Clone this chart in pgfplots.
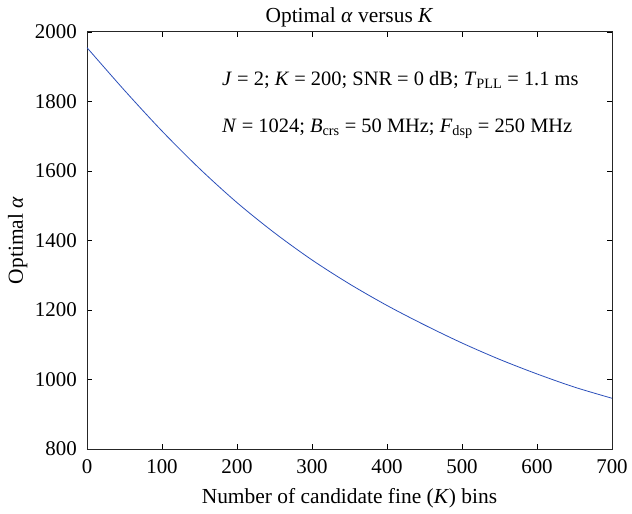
\documentclass[border=0pt]{standalone}
\usepackage{pgfplots}
\pgfplotsset{compat=1.18}
\usetikzlibrary{calc}
\usepackage{fontspec}
\setmainfont{Liberation Serif}
\definecolor{curve}{RGB}{42,78,186}
\begin{document}
\fontsize{20.5}{24}\selectfont
\begin{tikzpicture}
\begin{axis}[
  scale only axis,
  width=525bp, height=417bp,
  xmin=0, xmax=700, ymin=800, ymax=2000,
  xtick={0,100,...,700}, ytick={800,1000,...,2000},
  tick align=inside,
  major tick length=5bp,
  tick style={black, line width=0.7pt},
  axis line style={black!85, line width=1pt},
  /pgf/number format/assume math mode=true,
  /pgf/number format/set thousands separator={},
  ticklabel style={font=\fontsize{21}{24}\selectfont},
  xticklabel style={anchor=base, yshift=-24bp},
  yticklabel style={anchor=east, inner sep=0pt, xshift=-10bp},
  label style={font=\fontsize{21.5}{24}\selectfont, inner sep=0pt},
  title style={font=\fontsize{21.5}{24}\selectfont, inner sep=0pt, at={($(axis description cs:0.5,1)+(0,4bp)$)}, anchor=base},
  title={Optimal \textit{α} versus \textit{K}},
  xlabel={Number of candidate fine (\textit{K}) bins},
  ylabel={Optimal \textit{α}},
  xlabel style={at={($(axis description cs:0.5,0)+(0,-54bp)$)}, anchor=base},
  ylabel style={at={($(axis description cs:0,0.5)+(-64bp,0)$)}, anchor=base},
]
\addplot[curve, line width=0.8pt, smooth] coordinates {
(0,1955) (50,1832) (100,1715) (150,1607) (200,1509) (250,1422) (300,1344)
(350,1275) (400,1213) (450,1157) (500,1105) (550,1058) (600,1016) (650,978) (700,946)
};
\node[anchor=base west, inner sep=0pt] at (axis cs:180,1847) {\textit{J} = 2; \textit{K} = 200; SNR = 0 dB; \textit{T}\textsubscript{PLL} = 1.1 ms};
\node[anchor=base west, inner sep=0pt] at (axis cs:180,1712) {\textit{N} = 1024; \textit{B}\textsubscript{crs} = 50 MHz; \textit{F}\textsubscript{dsp} = 250 MHz};
\end{axis}
\pgfresetboundingbox
\useasboundingbox (current axis.south west) ++(-87bp,-65bp) rectangle ++(632bp,514bp);
\end{tikzpicture}
\end{document}
